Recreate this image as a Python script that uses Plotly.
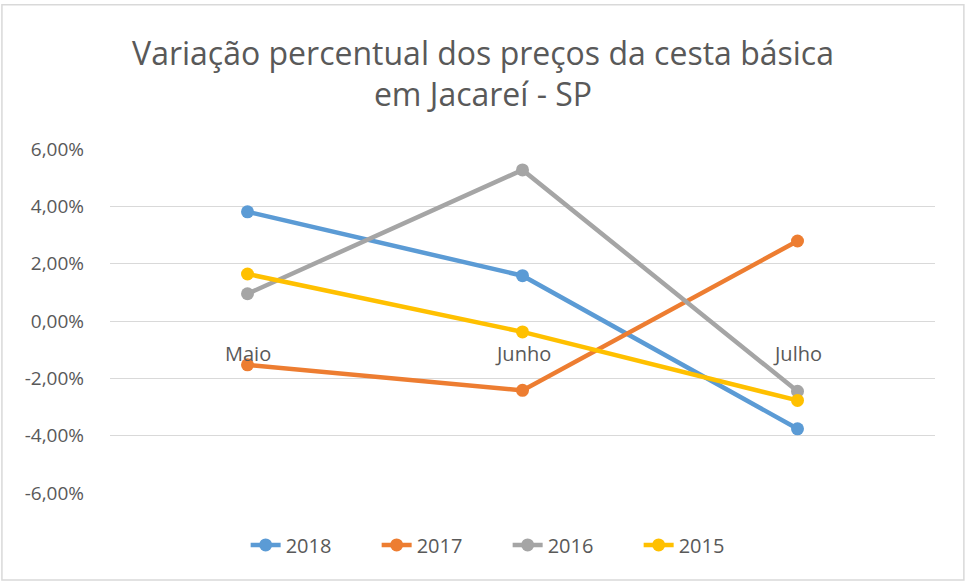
import plotly.graph_objects as go

months = ["Maio", "Junho", "Julho"]
years = ["2018", "2017", "2016", "2015"]
v2018 = [0.0381, 0.0158, -0.0376]
v2017 = [-0.0153, -0.0242, 0.0279]
v2016 = [0.0095, 0.0527, -0.0245]
v2015 = [0.0164, -0.0038, -0.0277]
y_ticks = [-0.06, -0.04, -0.02, 0.0, 0.02, 0.04, 0.06]
y_tick_labels = ["-6,00%", "-4,00%", "-2,00%", "0,00%", "2,00%", "4,00%", "6,00%"]

_TEXT = "#595959"
_GRID = "#d9d9d9"
_FONT = "Open Sans, sans-serif"
_COLORS = ["#5B9BD5", "#ED7D31", "#A5A5A5", "#FFC000"]

fig = go.Figure()
for name, values, color in zip(years, [v2018, v2017, v2016, v2015], _COLORS):
    fig.add_trace(go.Scatter(
        x=months, y=values, name=name, mode="lines+markers",
        line=dict(color=color, width=4.5),
        marker=dict(color=color, size=13),
    ))

# Excel puts the category labels right under the zero line
for m in months:
    fig.add_annotation(x=m, y=0, text=m, showarrow=False, yshift=-32,
                       font=dict(family=_FONT, size=20, color=_TEXT))

fig.update_layout(
    width=966, height=583,
    paper_bgcolor="white", plot_bgcolor="white",
    font=dict(family=_FONT, size=16, color=_TEXT),
    title=dict(text="Variação percentual dos preços da cesta básica<br>em Jacareí - SP",
               x=0.5, xanchor="center", y=0.889, yanchor="middle",
               font=dict(family=_FONT, size=32, color=_TEXT)),
    xaxis=dict(showticklabels=False, showgrid=False, zeroline=False, showline=False,
               range=[-0.5, 2.5]),
    yaxis=dict(range=[-0.06, 0.06], tickvals=y_ticks, ticktext=y_tick_labels,
               gridcolor=_GRID, gridwidth=1, zeroline=True, zerolinecolor=_GRID, zerolinewidth=1,
               showline=False, ticklabelstandoff=25,
               tickfont=dict(family=_FONT, size=19, color=_TEXT)),
    legend=dict(orientation="h", x=0.482, xanchor="center", y=-0.151, yanchor="middle",
                font=dict(family=_FONT, size=20, color=_TEXT), entrywidth=86),
    margin=dict(l=110, r=31, t=149, b=90),
    showlegend=True,
)

fig.add_shape(type="rect", xref="paper", yref="paper",
              x0=-0.131, x1=1.035, y0=-0.253, y1=1.419,
              line=dict(color=_GRID, width=1.5), layer="below")

# drop the default 8px body margin so the figure sits flush with the window
fig.write_html("out.html", config={"displayModeBar": False},
               post_script="document.body.style.margin='0';")
